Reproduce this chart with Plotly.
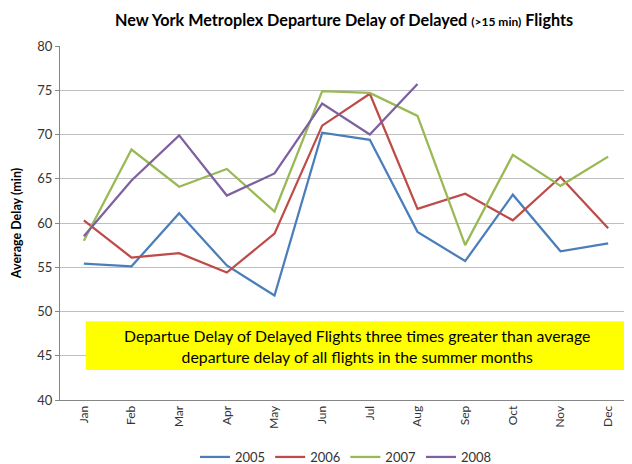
import plotly.graph_objects as go

months = ["Jan", "Feb", "Mar", "Apr", "May", "Jun", "Jul", "Aug", "Sep", "Oct", "Nov", "Dec"]
y2005 = [55.4, 55.1, 61.1, 55.2, 51.8, 70.2, 69.4, 59.0, 55.7, 63.2, 56.8, 57.7]
y2006 = [60.3, 56.1, 56.6, 54.4, 58.8, 71.0, 74.6, 61.6, 63.3, 60.3, 65.2, 59.4]
y2007 = [58.0, 68.3, 64.1, 66.1, 61.3, 74.9, 74.7, 72.1, 57.5, 67.7, 64.2, 67.5]
y2008 = [58.5, 64.8, 69.9, 63.1, 65.6, 73.5, 70.0, 75.7]
y_ticks = [40, 45, 50, 55, 60, 65, 70, 75, 80]

series = [("2005", y2005, "#4A7EBB"), ("2006", y2006, "#BE4B48"),
          ("2007", y2007, "#98B954"), ("2008", y2008, "#7D60A0")]

fig = go.Figure()
for name, vals, color in series:
    fig.add_trace(go.Scatter(x=months[:len(vals)], y=vals, name=name, mode="lines",
                             line=dict(color=color, width=2.25)))

font_family = "Lato, 'Open Sans', sans-serif"

fig.add_shape(type="rect", xref="paper", yref="y", x0=0.045, x1=0.991, y0=43.4, y1=48.9,
              fillcolor="#FFFF00", line=dict(width=0), layer="above")
fig.add_annotation(xref="paper", yref="y", x=0.52, y=46.15,
                   text="Departue Delay of Delayed Flights three times greater than average<br>departure delay of all flights in the summer months",
                   showarrow=False, font=dict(family=font_family, size=15.8, color="#000000"),
                   align="center")

fig.update_layout(
    width=624, height=456,
    margin=dict(l=52, r=0, t=38, b=64, autoexpand=False),
    paper_bgcolor="white", plot_bgcolor="white",
    font=dict(family=font_family, color="#333333"),
    title=dict(text="<b>New York Metroplex Departure Delay of Delayed <span style='font-size:12px'>(>15 min)</span> Flights</b>",
               x=0.5385, xanchor="center", y=0.972, yanchor="middle",
               font=dict(family=font_family, size=16.2, color="#000000")),
    showlegend=True,
    legend=dict(orientation="h", x=0.5, xanchor="center", y=-0.161, yanchor="middle",
                font=dict(family=font_family, size=13, color="#333333"),
                itemwidth=30, tracegroupgap=0),
    xaxis=dict(type="category", categoryorder="array", categoryarray=months,
               range=[-0.5, 11.5], tickangle=-90, showgrid=False, automargin=False,
               showline=True, linecolor="#868686", linewidth=1,
               ticks="", tickfont=dict(family=font_family, size=12, color="#333333")),
    yaxis=dict(range=[40, 80], tickvals=y_ticks, showgrid=True, gridcolor="#BFBFBF", gridwidth=1,
               showline=True, linecolor="#868686", linewidth=1, ticks="outside", ticklen=4,
               tickcolor="#868686", zeroline=False, automargin=False,
               tickfont=dict(family=font_family, size=13, color="#333333"),
               title=dict(text="<b>Average Delay (min)</b>", standoff=12,
                          font=dict(family=font_family, size=12.5, color="#000000"))),
)

fig.write_html("out.html")
